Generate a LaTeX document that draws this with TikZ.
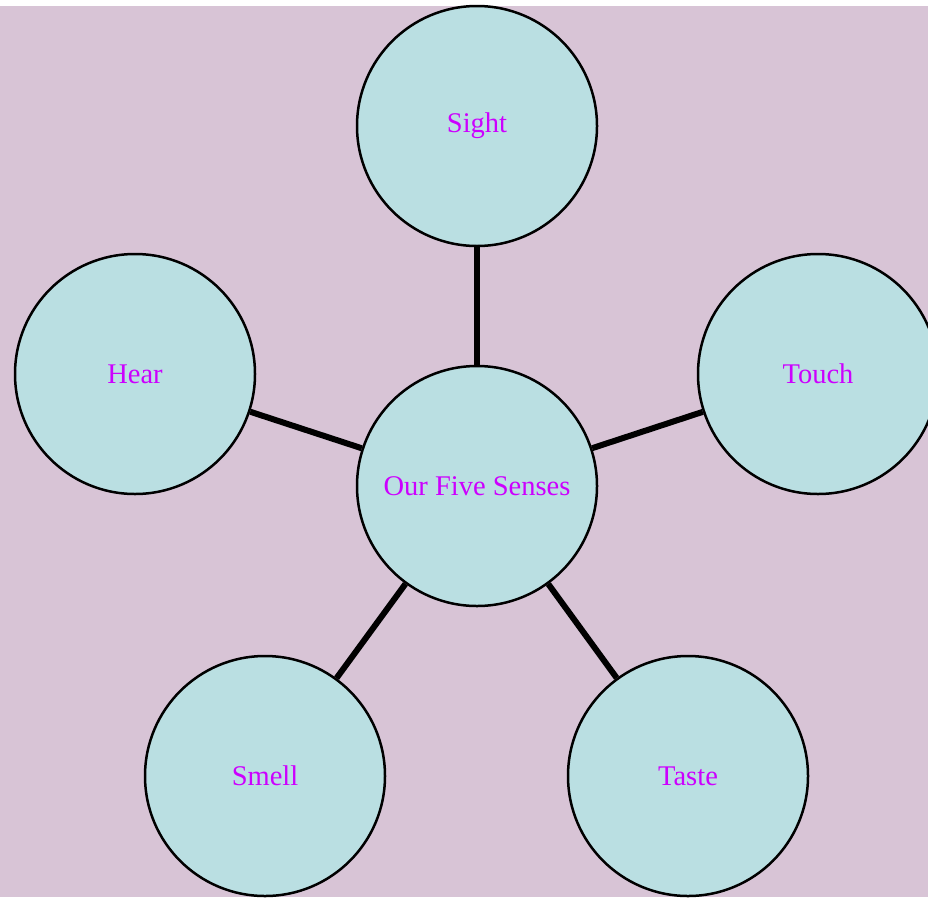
\documentclass[tikz,border=0pt]{standalone}
\usepackage{fontspec}
\setmainfont{Liberation Serif}
\usepackage{tikz}
\definecolor{bgpink}{HTML}{D8C4D6}
\definecolor{sensefill}{HTML}{BADFE2}
\definecolor{sensetext}{HTML}{CC00FF}
\tikzset{
  sense/.style={circle, draw=black, line width=2.5pt, fill=sensefill,
    minimum size=240pt, inner sep=0pt, text=sensetext, font=\fontsize{28.5}{32}\selectfont},
  spoke/.style={line width=6pt}
}

\begin{document}
\begin{tikzpicture}[x=1pt, y=-1pt]
        \useasboundingbox (0,0) rectangle (928,897);
        \fill[white] (0,0) rectangle (928,897);
        \fill[bgpink] (0,6) rectangle (928,897);

        \node[sense] (five) at (477,486) {Our Five Senses};
        \node[sense] (sight) at (477,126) {Sight};
        \node[sense] (hear) at (135,374) {Hear};
        \node[sense] (touch) at (818,374) {Touch};
        \node[sense] (smell) at (265,776) {Smell};
        \node[sense] (taste) at (688,776) {Taste};

        \draw[spoke] (five) -- (sight);
        \draw[spoke] (five) -- (hear);
        \draw[spoke] (five) -- (touch);
        \draw[spoke] (five) -- (smell);
        \draw[spoke] (five) -- (taste);
    \end{tikzpicture}
\end{document}
